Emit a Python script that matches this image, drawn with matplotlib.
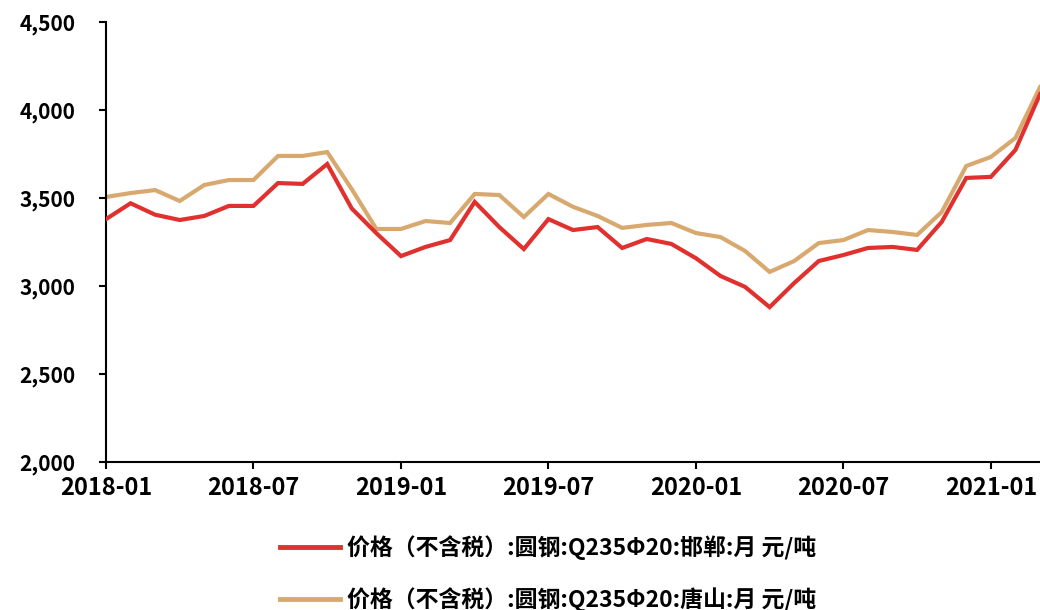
import matplotlib
matplotlib.use("Agg")
import matplotlib.pyplot as plt
import pandas as pd

months = [str(p) for p in pd.period_range("2018-01", "2021-03", freq="M")]

handan = [3380, 3470, 3405, 3375, 3398, 3455, 3455, 3585, 3580, 3693,
          3440, 3300, 3170, 3222, 3261, 3478, 3335, 3210, 3380, 3318,
          3335, 3216, 3267, 3239, 3158, 3057, 2995, 2880, 3017, 3142,
          3176, 3216, 3222, 3205, 3364, 3614, 3620, 3773, 4090]

tangshan = [3506, 3528, 3545, 3483, 3574, 3602, 3602, 3739, 3739, 3761,
            3550, 3324, 3324, 3369, 3358, 3523, 3517, 3392, 3523, 3450,
            3398, 3330, 3347, 3358, 3301, 3278, 3199, 3080, 3142, 3244,
            3261, 3318, 3307, 3290, 3420, 3682, 3733, 3841, 4130]

tick_labels = ["2018-01", "2018-07", "2019-01", "2019-07", "2020-01", "2020-07", "2021-01"]
y_ticks = [2000, 2500, 3000, 3500, 4000, 4500]

label_handan = "价格（不含税）:圆钢:Q235Φ20:邯郸:月 元/吨"
label_tangshan = "价格（不含税）:圆钢:Q235Φ20:唐山:月 元/吨"

plt.rcParams['font.family'] = ['Noto Sans CJK SC', 'DejaVu Sans']

fig = plt.figure(figsize=(10.4, 6.1), dpi=100)
ax = fig.add_axes([106/1040, 1-462/610, 934/1040, 440/610])

x = list(range(len(months)))
ax.plot(x, handan, color="#E0312F", lw=3.0, label=label_handan, solid_joinstyle="miter", zorder=3)
ax.plot(x, tangshan, color="#D8A96F", lw=3.0, label=label_tangshan, solid_joinstyle="miter", zorder=2)

ax.set_xlim(0, len(months) - 1)
ax.set_ylim(2000, 4500)
ax.set_xticks([months.index(t) for t in tick_labels])
ax.set_xticklabels(tick_labels)
ax.set_yticks(y_ticks)
ax.set_yticklabels([f"{v:,}" for v in y_ticks])

for s in ["top", "right"]:
    ax.spines[s].set_visible(False)
for s in ["left", "bottom"]:
    ax.spines[s].set_linewidth(1.5)
    ax.spines[s].set_color("black")
ax.tick_params(axis="both", direction="out", length=5, width=1.5, colors="black")
ax.tick_params(axis="x", pad=5, labelsize=17)
ax.tick_params(axis="y", pad=17, labelsize=15)
for lab in ax.get_xticklabels() + ax.get_yticklabels():
    lab.set_fontweight("bold")

leg = fig.legend(loc="upper center", bbox_to_anchor=(0.527, 1-515/610), frameon=False,
                 ncol=1, handlelength=2.6, handletextpad=0.3, labelspacing=1.15,
                 prop={"family": ["Noto Sans CJK SC", "DejaVu Sans"], "size": 16.5, "weight": "bold"})
for line in leg.get_lines():
    line.set_linewidth(3.5)

fig.savefig("out.png", dpi=100)
